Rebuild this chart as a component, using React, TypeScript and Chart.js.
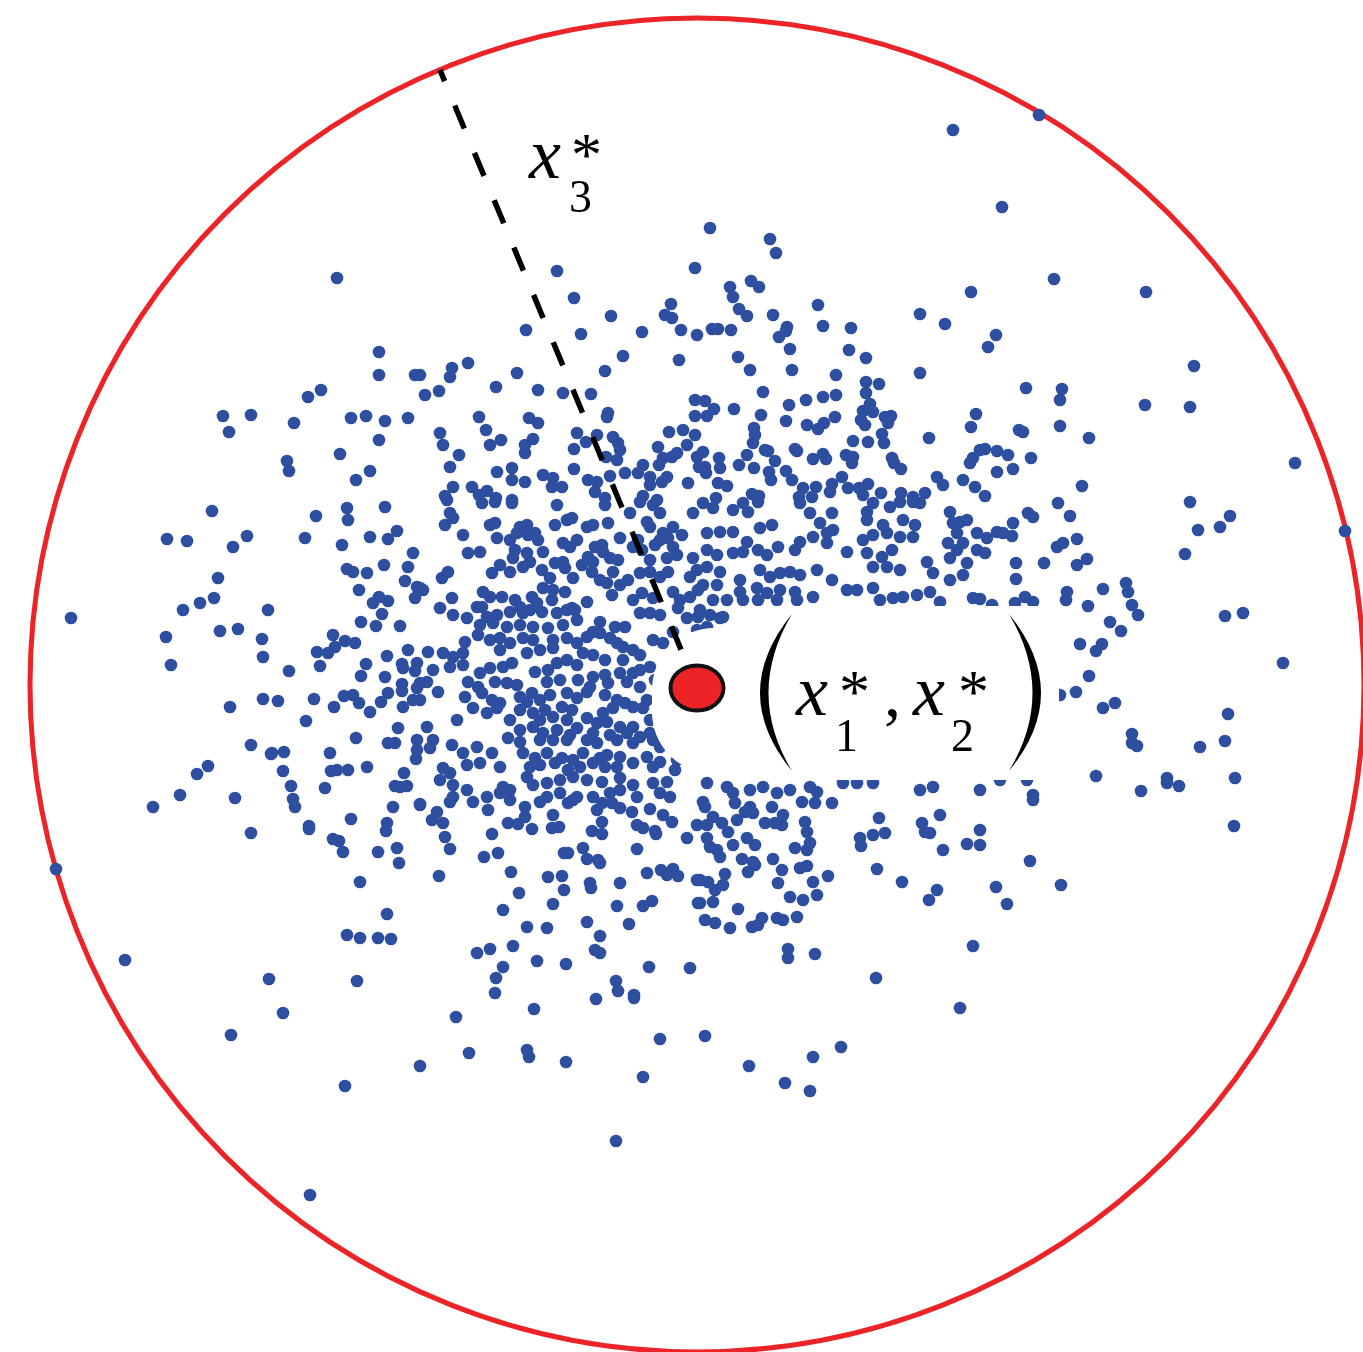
import { useEffect, useRef } from "react";
import { Chart, registerables } from "chart.js";

Chart.register(...registerables);

const W = 1363;
const H = 1352;

// Sample cloud, in plane units (u to the right, v downward).
const farSamples: number[][] = [
  [953,130],[1039,115],[1002,207],[337,278],[1054,279],[1146,292],[1295,463],[1345,531],[71,618],[1283,663],
  [56,869],[125,960],[231,1035],[283,1013],[345,1086],[420,1066],[469,1053],[527,1050],[566,1062],[616,1141],
  [310,1195],[643,1077],[660,1039],[705,1036],[749,1066],[785,1083],[810,1091],[813,1057],[841,1047],[960,1008],
  [1194,366],[1190,407],[1145,405],[1234,826],[1190,502],[1230,516],[1220,527],[1198,530],[1185,554],[1225,616],
  [1243,613],[1228,714],[1225,741],[1200,747],[1235,778],
];

const upperLeftSamples: number[][] = [
  [379,352],[379,375],[415,375],[321,390],[308,397],[223,416],[251,415],[229,432],[294,423],[351,418],
  [366,416],[385,421],[408,418],[379,440],[340,454],[287,461],[289,471],[370,471],[356,480],
];

const upperMidSamples: number[][] = [
  [557,271],[695,268],[574,298],[671,304],[665,315],[672,318],[611,316],[681,330],[697,335],[526,330],
  [581,334],[642,332],[623,356],[679,360],[468,363],[452,368],[450,377],[517,373],[605,371],[420,375],
  [496,387],[439,391],[425,395],[538,390],[563,393],[591,394],[695,400],[608,413],[607,417],[695,416],
  [479,417],[529,418],[538,423],[486,430],[440,433],[443,445],[577,433],[597,435],[613,437],[618,443],
  [620,450],[683,430],[669,432],[695,435],[501,440],[490,445],[533,439],[525,445],[525,453],[586,442],
  [574,449],[459,455],[658,447],[687,445],[677,453],[672,457],[606,457],[617,460],[663,458],[659,465],
  [697,457],[699,467],[450,467],[497,472],[512,468],[512,480],[574,469],[625,473],[643,465],[638,473],
  [650,477],[650,485],[543,475],[553,478],[552,487],[562,487],[525,482],[588,480],[597,482],[595,492],
  [610,476],[667,477],[662,482],[688,483],[453,487],[472,487],[487,491],[479,495],[445,496],[496,498],
  [512,500],[643,496],[657,500],[605,498],
];

const upperRightSamples: number[][] = [
  [710,228],[770,239],[776,253],[730,287],[733,297],[751,281],[759,287],[971,292],[739,309],[747,316],
  [818,305],[773,315],[920,314],[945,324],[712,329],[718,329],[731,330],[787,327],[786,331],[779,337],
  [823,326],[851,328],[790,349],[849,350],[866,358],[738,357],[750,370],[792,370],[836,375],[920,373],
  [866,382],[879,384],[866,393],[763,392],[806,400],[823,397],[836,395],[705,401],[714,409],[707,416],
  [734,409],[789,405],[761,415],[870,404],[863,411],[873,412],[861,420],[865,425],[885,417],[891,416],
  [888,423],[835,417],[786,421],[807,425],[824,423],[818,429],[976,414],[971,427],[754,428],[755,435],
  [753,443],[882,434],[884,443],[853,441],[868,442],[929,438],[703,452],[705,467],[706,473],[719,458],
  [720,468],[747,455],[739,465],[754,468],[765,450],[768,451],[775,461],[795,449],[797,451],[813,459],
  [823,454],[826,459],[846,455],[853,457],[852,463],[892,458],[894,463],[901,469],[970,463],[973,458],
  [980,450],[769,472],[771,480],[786,471],[792,480],[842,477],[937,477],[943,485],[963,480],[975,487],
  [718,483],[727,486],[803,488],[799,497],[816,487],[812,497],[832,484],[830,492],[848,488],[859,488],
  [868,484],[863,495],[881,493],[901,493],[913,497],[925,493],[752,494],[759,496],[716,498],
  [996,335],[988,347],[1026,388],[1062,389],[1060,400],[1019,430],[1023,432],[1060,426],[1089,438],[985,449],
  [997,451],[1008,455],[1031,458],[997,472],[1013,469],[1082,486],[985,496],[1058,503],
];

const midLeftSamples: number[][] = [
  [212,511],[316,516],[347,508],[348,520],[385,507],[167,539],[187,541],[233,547],[247,536],[305,538],
  [342,545],[370,537],[388,539],[397,531],[413,553],[218,578],[347,569],[353,572],[367,573],[384,565],
  [408,567],[405,581],[417,587],[415,598],[359,590],[183,610],[200,603],[214,598],[268,610],[373,603],
  [379,597],[388,601],[382,614],[361,622],[376,626],[400,626],[166,637],[220,631],[238,629],[262,639],
  [263,657],[333,635],[345,641],[355,643],[335,647],[328,653],[317,652],[408,650],[387,656],[366,664],
  [402,664],[403,668],[417,663],[415,671],[171,665],[289,671],[320,666],[361,676],[385,677],[402,684],
  [402,691],[417,688],[263,699],[278,701],[314,699],[334,707],[344,696],[353,695],[359,703],[388,693],
  [381,702],[370,712],[403,707],[413,700],[230,707],[306,721],[398,728],[356,738],[388,743],[395,743],
  [417,740],[417,750],[416,759],[251,745],[271,754],[272,753],[284,752],[330,753],[208,766],[197,774],
  [283,771],[331,771],[337,770],[348,770],[367,767],[404,773],[395,786],[407,786],[400,787],[291,786],
  [325,788],[180,795],[235,798],[293,799],
];

const coreSamples: number[][] = [
  [447,500],[482,503],[495,502],[512,503],[557,505],[605,505],[630,513],[640,502],[660,513],[653,505],[693,513],
  [450,513],[453,518],[445,525],[490,525],[495,523],[520,527],[527,525],[555,525],[567,520],[572,518],[587,527],
  [593,525],[608,523],[647,522],[650,527],[673,527],[663,533],[682,535],
  [463,535],[497,538],[510,540],[517,533],[528,535],[535,533],[538,540],[563,543],[577,540],[570,547],[595,547],
  [602,545],[620,538],[638,540],[633,547],[660,540],[668,538],[673,547],[655,545],
  [468,553],[480,552],[515,550],[513,558],[527,553],[530,562],[543,552],[555,563],[563,562],[582,565],[588,557],
  [593,562],[603,552],[610,558],[618,560],[642,550],[650,560],[667,558],[677,555],[693,558],
  [442,578],[448,572],[492,573],[500,565],[510,572],[523,567],[542,570],[550,578],[565,568],[573,578],[592,572],
  [600,580],[613,572],[607,583],[620,585],[628,580],[640,573],[650,572],[660,577],[668,572],[690,577],[697,570],
  [420,588],[423,590],
  [452,598],[440,608],[483,592],[490,597],[502,597],[515,600],[532,597],[543,588],[553,590],[565,592],[552,600],
  [612,595],[633,600],[642,593],[653,598],[673,592],[680,600],[690,597],[698,590],[482,607],[520,607],[537,603],
  [572,608],[587,602],
  [453,615],[467,618],[477,607],[487,617],[497,615],[510,612],[523,613],[530,610],[542,612],[557,613],[567,610],
  [575,610],[600,622],[615,627],[625,627],[640,613],[650,613],[660,615],[678,608],[687,618],[698,617],[480,625],
  [493,623],[507,627],[520,625],[533,627],[548,628],[563,625],[577,620],[593,632],[610,638],[697,630],[673,632],
  [465,642],[478,635],[490,640],[500,638],[510,643],[523,638],[533,640],[553,640],[567,638],[577,643],[587,637],
  [600,633],[617,643],[623,647],[633,650],[640,655],[653,640],[663,643],[428,652],[443,653],[453,657],[463,653],
  [500,650],[527,653],[540,650],[553,648],[583,653],[593,655],[605,660],[623,660],
  [433,670],[450,667],[463,665],[480,673],[490,668],[503,667],[512,663],[535,672],[548,670],[557,663],[567,660],
  [577,665],[593,677],[605,675],[620,673],[633,673],[640,670],[650,667],[420,683],[438,692],[427,682],[468,682],
  [478,687],[495,682],[507,683],[517,685],[532,693],[547,682],[560,680],[578,680],[590,687],[608,683],[627,682],
  [640,687],[655,680],
  [465,697],[482,693],[492,700],[500,703],[520,697],[527,702],[540,700],[550,695],[567,693],[577,698],[587,692],
  [605,695],[617,700],[625,703],[633,707],[647,700],[473,708],[487,713],[497,708],[520,710],[533,713],[545,710],
  [562,707],[572,710],[587,718],[603,713],[613,708],[643,708],[420,700],[457,720],[510,720],[427,727],
  [540,720],[553,717],[567,720],[577,728],[597,723],[607,722],[620,727],[633,727],[650,720],[650,733],[520,730],
  [533,727],[543,733],[557,730],[570,735],[593,733],[610,735],[627,733],[640,737],[433,740],[452,745],[477,747],
  [508,738],[520,742],[540,740],[553,740],[567,740],[587,740],[597,743],[617,740],[633,743],[653,740],[660,747],
  [430,748],[463,753],[467,765],[492,753],[523,753],[535,758],[547,753],[562,758],[573,760],[583,753],[600,758],
  [607,755],[620,757],[647,757],[660,762],[677,760],[443,768],[450,773],[480,763],[500,767],[530,767],[540,765],
  [555,763],[568,770],[580,767],[593,763],[605,767],[617,767],[633,763],[653,767],[675,770],
  [440,780],[453,785],[467,790],[503,787],[510,790],[527,777],[533,785],[547,783],[560,780],[573,777],[587,780],
  [602,782],[620,778],[633,785],[653,783],[667,782],[453,797],[487,797],[500,793],[547,797],[560,793],[577,797],
  [593,797],[610,793],[620,790],[637,797],[660,793],[670,797],
];

const midRightSamples: number[][] = [
  [703,503],[713,508],[733,510],[748,512],[743,503],[758,502],[800,503],[810,513],[832,513],[820,523],[827,533],
  [833,530],[867,512],[873,503],[890,507],[900,502],[913,502],[920,503],[903,520],[915,525],[883,525],[867,520],
  [863,540],[873,535],[887,533],[900,537],[913,537],[950,512],[960,522],[953,523],[967,520],[977,533],[957,533],
  [948,543],[963,543],[977,550],
  [707,533],[720,532],[733,532],[760,528],[772,525],[747,542],[707,550],[717,555],[733,553],[743,552],[758,550],
  [767,555],[778,547],[795,550],[800,542],[813,537],[827,543],[847,552],[867,553],[882,557],[892,550],[873,567],
  [887,567],[900,570],[927,562],[933,573],[950,558],[957,550],[967,563],[950,580],[963,575],
  [707,567],[720,572],[740,580],[760,570],[770,577],[780,573],[790,572],[800,575],[817,570],[832,580],[740,592],
  [757,588],[767,593],[780,590],[795,592],[813,597],[703,585],[717,585],[713,600],[727,600],[743,600],[758,600],
  [777,600],[797,600],[847,590],[857,590],[873,588],[880,600],[893,598],[903,597],[917,595],[930,592],[940,602],
  [973,598],[700,610],[710,615],[723,617],[720,618],[707,627],
  [707,783],[727,787],[733,793],[750,790],[763,787],[777,793],[790,790],[810,787],[817,792],[843,783],[857,783],
  [873,783],[920,790],[933,787],
  [1070,516],[1028,513],[1033,517],[1013,523],[997,532],[1003,533],[1012,536],[987,538],[985,553],[1057,547],
  [1063,543],[1077,539],[1016,563],[1044,563],[1077,565],[1087,559],[1016,579],[1067,592],[1066,600],[1103,589],
  [1126,583],[1128,592],[1132,605],[1138,615],[1088,606],[980,599],[992,605],[1015,603],[1025,597],[1033,602],
  [1110,622],[1121,631],[1080,644],[1102,644],[1096,651],[1089,676],[1060,695],[1076,692],[1103,708],[1115,703],
  [1132,734],[1137,746],[1132,743],[1096,776],[1167,778],[1167,783],[1179,786],[1141,791],[1000,780],[1027,780],
  [1033,795],[980,790],
];

const lowerSamples: number[][] = [
  [153,807],[295,807],[251,833],[309,826],[309,829],[333,839],[339,841],[343,852],[351,819],[393,807],
  [387,823],[386,831],[378,852],[397,848],[399,863],[420,804],[360,882],[387,914],[347,935],[360,938],
  [378,938],[391,939],[269,979],[357,981],
  [420,805],[450,802],[473,802],[510,800],[540,802],[568,803],[573,800],[437,812],[432,820],[443,823],
  [445,837],[450,849],[488,810],[492,834],[508,823],[518,824],[525,807],[525,817],[532,829],[553,815],
  [552,828],[559,827],[597,810],[602,803],[612,803],[620,808],[632,812],[602,822],[592,831],[602,834],
  [637,825],[643,828],[650,809],[655,831],[656,834],[663,815],[672,822],[697,825],[687,838],[484,857],
  [498,853],[564,853],[568,853],[583,848],[587,859],[598,860],[600,863],[637,849],[439,876],[511,872],
  [548,877],[562,876],[564,890],[590,883],[591,888],[620,883],[647,873],[661,870],[667,875],[673,869],
  [678,876],[697,880],[519,893],[503,910],[553,904],[617,906],[643,906],[652,901],[698,903],[527,927],
  [547,928],[587,922],[600,936],[629,924],[477,953],[490,949],[513,946],[503,967],[496,978],[495,993],
  [537,961],[566,964],[595,950],[600,953],[649,967],[690,968],[616,981],[618,991],[634,995],[634,998],
  [596,999],[534,1009],[456,1017],[529,1057],
  [705,807],[703,802],[735,803],[750,807],[745,812],[753,813],[772,807],[783,815],[802,802],[815,803],
  [832,803],[713,817],[722,823],[728,832],[707,825],[737,820],[765,823],[775,823],[782,825],[805,822],
  [807,832],[707,838],[710,847],[717,850],[720,857],[733,845],[747,838],[755,845],[742,859],[753,862],
  [755,865],[748,872],[773,859],[782,870],[795,848],[810,843],[807,850],[800,868],[807,866],[828,876],
  [813,882],[817,895],[778,883],[790,897],[803,900],[725,874],[723,885],[715,890],[708,882],[700,880],
  [713,902],[700,903],[738,909],[705,920],[715,923],[730,928],[752,927],[758,925],[762,918],[777,918],
  [783,920],[797,917],[788,949],[788,958],[815,954],[860,838],[861,846],[873,835],[885,833],[879,818],
  [877,869],[902,882],[922,823],[930,833],[925,832],[940,815],[943,850],[937,890],[929,900],[967,844],
  [980,845],[980,830],[973,946],[876,978],[1033,800],[1030,861],[996,887],[1007,904],[1061,885],
];

const sampleGroups = [
  farSamples, upperLeftSamples, upperMidSamples, upperRightSamples,
  midLeftSamples, coreSamples, midRightSamples, lowerSamples,
];

// Optimum (x1*, x2*), the bounding circle and the start of the x3* projection.
const optimum = { u: 697, v: 688 };
const boundary = { u: 697, v: 685, r: 667 };
const projectionStart = { u: 440, v: 70 };

const SAMPLE_BLUE = "#2e4fa0";
const BOUNDARY_RED = "#ec2327";

function makeOptimumMarker(): HTMLCanvasElement {
  const c = document.createElement("canvas");
  c.width = 62;
  c.height = 54;
  const g = c.getContext("2d")!;
  g.beginPath();
  g.ellipse(31, 27, 26.5, 22.5, 0, 0, Math.PI * 2);
  g.fillStyle = BOUNDARY_RED;
  g.fill();
  g.lineWidth = 4;
  g.strokeStyle = "#111111";
  g.stroke();
  return c;
}

const SERIF = '"Liberation Serif", "Times New Roman", serif';

const overlayPlugin = {
  id: "figureOverlay",
  beforeDatasetsDraw(chart: any) {
    const { ctx, scales } = chart;
    const sx = scales.x, sy = scales.y;
    const cx = sx.getPixelForValue(boundary.u);
    const cy = sy.getPixelForValue(boundary.v);
    const r = sx.getPixelForValue(boundary.u + boundary.r) - cx;
    ctx.save();
    ctx.beginPath();
    ctx.arc(cx, cy, r, 0, Math.PI * 2);
    ctx.lineWidth = 5;
    ctx.strokeStyle = BOUNDARY_RED;
    ctx.stroke();
    ctx.restore();
  },
  beforeDatasetDraw(chart: any, args: any) {
    if (args.index !== 1) return;
    // white backing behind the optimum and its label
    const { ctx, scales } = chart;
    const px = (u: number) => scales.x.getPixelForValue(u);
    const py = (v: number) => scales.y.getPixelForValue(v);
    ctx.save();
    ctx.fillStyle = "#ffffff";
    ctx.beginPath();
    ctx.moveTo(px(743), py(606));
    ctx.lineTo(px(1040), py(606));
    ctx.lineTo(px(1040), py(682));
    ctx.lineTo(px(1059), py(682));
    ctx.lineTo(px(1059), py(780));
    ctx.lineTo(px(743), py(780));
    ctx.closePath();
    ctx.fill();
    ctx.beginPath();
    ctx.roundRect(px(652), py(628), px(782) - px(652), py(774) - py(628), [62, 0, 0, 62]);
    ctx.fill();
    ctx.restore();
  },
  afterDatasetsDraw(chart: any) {
    const { ctx, scales } = chart;
    const px = (u: number) => scales.x.getPixelForValue(u);
    const py = (v: number) => scales.y.getPixelForValue(v);
    ctx.save();
    ctx.fillStyle = "#000000";
    ctx.textBaseline = "alphabetic";
    ctx.textAlign = "left";

    const italic = `italic 72px ${SERIF}`;
    const sub = `46px ${SERIF}`;
    const star = `62px ${SERIF}`;

    // x3*
    ctx.font = italic;
    ctx.fillText("x", px(529), py(178));
    ctx.font = sub;
    ctx.fillText("3", px(569), py(212));
    ctx.font = star;
    ctx.fillText("*", px(571), py(175));

    // (x1*, x2*)
    ctx.font = italic;
    ctx.fillText("x", px(796), py(715));
    ctx.font = sub;
    ctx.fillText("1", px(835), py(751));
    ctx.font = star;
    ctx.fillText("*", px(839), py(712));
    ctx.font = `68px ${SERIF}`;
    ctx.fillText(",", px(884), py(716));
    ctx.font = italic;
    ctx.fillText("x", px(913), py(715));
    ctx.font = sub;
    ctx.fillText("2", px(951), py(751));
    ctx.font = star;
    ctx.fillText("*", px(958), py(712));

    // large parentheses
    ctx.beginPath();
    ctx.moveTo(px(792), py(614));
    ctx.quadraticCurveTo(px(728), py(693), px(792), py(771));
    ctx.quadraticCurveTo(px(745), py(693), px(792), py(614));
    ctx.closePath();
    ctx.fill();
    ctx.beginPath();
    ctx.moveTo(px(1009), py(614));
    ctx.quadraticCurveTo(px(1073), py(693), px(1009), py(771));
    ctx.quadraticCurveTo(px(1056), py(693), px(1009), py(614));
    ctx.closePath();
    ctx.fill();
    ctx.restore();
  },
};

export default function App() {
  const canvasRef = useRef<HTMLCanvasElement | null>(null);

  useEffect(() => {
    const canvas = canvasRef.current;
    if (!canvas) return;
    const cloud = sampleGroups.flat().map(([u, v]) => ({ x: u, y: v }));
    const chart = new Chart(canvas, {
      type: "scatter",
      data: {
        datasets: [
          {
            label: "optimum",
            data: [{ x: optimum.u, y: optimum.v }],
            pointStyle: makeOptimumMarker(),
            pointRadius: 28,
            order: 1,
          },
          {
            label: "x3*",
            data: [
              { x: projectionStart.u, y: projectionStart.v },
              { x: optimum.u, y: optimum.v },
            ],
            showLine: true,
            borderColor: "#000000",
            borderWidth: 5.5,
            borderDash: [25, 26.3],
            borderDashOffset: 12.9,
            borderCapStyle: "butt",
            pointRadius: 0,
            order: 2,
          },
          {
            label: "samples",
            data: cloud,
            pointRadius: 6.3,
            pointBorderWidth: 0,
            backgroundColor: SAMPLE_BLUE,
            borderColor: SAMPLE_BLUE,
            order: 3,
          },
        ],
      },
      options: {
        animation: false,
        responsive: false,
        devicePixelRatio: 1,
        layout: { padding: 0, autoPadding: false },
        plugins: {
          legend: { display: false },
          tooltip: { enabled: false },
        },
        events: [],
        scales: {
          x: { type: "linear", min: 0, max: W, display: false },
          y: { type: "linear", min: 0, max: H, reverse: true, display: false },
        },
      },
      plugins: [overlayPlugin],
    });
    return () => chart.destroy();
  }, []);

  return (
    <div style={{ position: "absolute", left: 0, top: 0, width: W, height: H, background: "#ffffff" }}>
      <canvas ref={canvasRef} width={W} height={H} style={{ display: "block" }} />
    </div>
  );
}
